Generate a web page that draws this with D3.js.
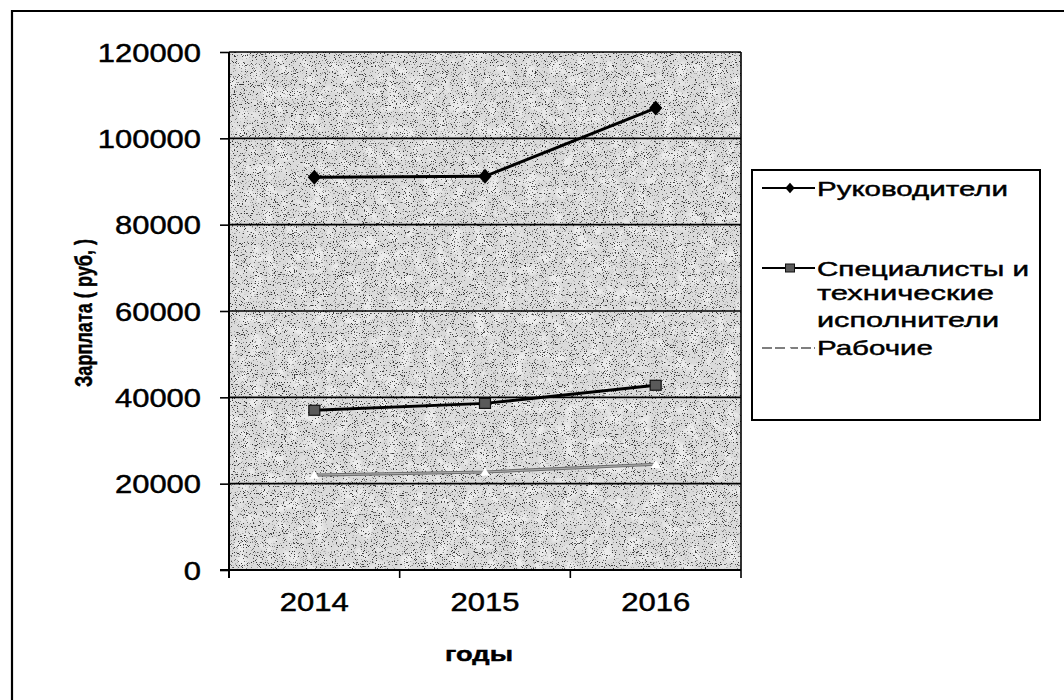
<!DOCTYPE html>
<html>
<head>
<meta charset="utf-8">
<script src="https://cdn.jsdelivr.net/npm/d3@7/dist/d3.min.js"></script>
<style>
  html, body { margin: 0; padding: 0; background: #fff; }
  svg { display: block; }
  text { font-family: "Liberation Sans", Arial, sans-serif; fill: #000; stroke: #000; stroke-width: 0.45px; }
</style>
</head>
<body>
<svg id="chart" width="1064" height="700"></svg>
<script>
// Average wages by staff category, 2014–2016
const years = ["2014", "2015", "2016"];
const managers = [91000, 91200, 107000];
const specialists = [37000, 38600, 42800];
const workers = [22000, 22700, 24500];
const yTicks = [0, 20000, 40000, 60000, 80000, 100000, 120000];
const legendLabels = ["Руководители", "Специалисты и технические исполнители", "Рабочие"];
const yTitle = "Зарплата ( руб, )";
const xTitle = "годы";

const svg = d3.select("#chart");
const defs = svg.append("defs");

// speckled plot-area fill
const f = defs.append("filter").attr("id", "grain")
  .attr("x", 0).attr("y", 0).attr("width", "100%").attr("height", "100%");
f.append("feTurbulence").attr("type", "fractalNoise").attr("baseFrequency", 0.9)
  .attr("numOctaves", 2).attr("seed", 7).attr("result", "noise");
f.append("feColorMatrix").attr("in", "noise").attr("type", "matrix")
  .attr("values", "0 0 0 0 0  0 0 0 0 0  0 0 0 0 0  -10 0 0 0 3.9");
// soft lighter blotches
const f2 = defs.append("filter").attr("id", "blotch")
  .attr("x", 0).attr("y", 0).attr("width", "100%").attr("height", "100%");
f2.append("feTurbulence").attr("type", "fractalNoise").attr("baseFrequency", 0.08)
  .attr("numOctaves", 2).attr("seed", 3).attr("result", "n2");
f2.append("feColorMatrix").attr("in", "n2").attr("type", "matrix")
  .attr("values", "0 0 0 0 1  0 0 0 0 1  0 0 0 0 1  4 0 0 0 -1.9");

const plot = { left: 229, right: 741, top: 52, bottom: 570 };

const x = d3.scaleBand().domain(years).range([plot.left, plot.right]);
const y = d3.scaleLinear().domain([0, 120000]).range([plot.bottom, plot.top]);
const cx = d => x(d) + x.bandwidth() / 2;

// outer frame (top and left edges)
svg.append("path").attr("d", "M12,700 V11 H1064")
  .attr("fill", "none").attr("stroke", "#000").attr("stroke-width", 2.2);

// plot background
const bg = (fill, filter) => svg.append("rect").attr("x", plot.left).attr("y", plot.top)
  .attr("width", plot.right - plot.left).attr("height", plot.bottom - plot.top)
  .attr("fill", fill).attr("filter", filter);
bg("#dadada", null);
bg("#fff", "url(#blotch)").attr("opacity", 0.5);
bg("#000", "url(#grain)").attr("opacity", 0.75);

// horizontal gridlines
svg.append("g").selectAll("line").data(yTicks.filter(v => v > 0)).join("line")
  .attr("x1", plot.left).attr("x2", plot.right)
  .attr("y1", d => y(d)).attr("y2", d => y(d))
  .attr("stroke", "#000").attr("stroke-width", 1.6);

// plot right edge
svg.append("line").attr("x1", plot.right).attr("x2", plot.right)
  .attr("y1", plot.top).attr("y2", plot.bottom)
  .attr("stroke", "#000").attr("stroke-width", 1.6);

// y axis
const yAxis = svg.append("g").attr("transform", `translate(${plot.left},0)`)
  .call(d3.axisLeft(y).tickValues(yTicks).tickSize(9).tickFormat(d => d));
yAxis.select(".domain").attr("stroke-width", 2).attr("d", `M0,${plot.top}V${plot.bottom + 8}`);
yAxis.selectAll(".tick line").attr("stroke-width", 1.6);
yAxis.selectAll(".tick text")
  .attr("x", -28).attr("dy", "0.36em")
  .style("font-size", "25px").style("font-family", "'Liberation Sans', Arial, sans-serif")
  .attr("textLength", d => String(d).length * 17.2).attr("lengthAdjust", "spacingAndGlyphs");

// x axis with ticks between categories
const xAxis = svg.append("g").attr("transform", `translate(0,${plot.bottom})`)
  .call(d3.axisBottom(x).tickSize(0).tickFormat(d => d));
xAxis.select(".domain").attr("stroke-width", 2).attr("d", `M${plot.left - 9},0H${plot.right}`);
xAxis.selectAll(".tick text")
  .attr("y", 41).attr("dy", 0)
  .style("font-size", "25px").style("font-family", "'Liberation Sans', Arial, sans-serif")
  .attr("textLength", 69).attr("lengthAdjust", "spacingAndGlyphs");
const bounds = years.map(d => x(d)).concat([plot.right]);
xAxis.append("g").selectAll("line").data(bounds).join("line")
  .attr("x1", d => d).attr("x2", d => d).attr("y1", 0).attr("y2", 8)
  .attr("stroke", "#000").attr("stroke-width", 1.6);

// axis titles
svg.append("text").attr("transform", "translate(92,313) rotate(-90)")
  .attr("text-anchor", "middle")
  .style("font-family", "'Liberation Sans Narrow', 'Liberation Sans', Arial, sans-serif")
  .style("font-weight", "bold").style("font-size", "23px")
  .attr("textLength", 148).attr("lengthAdjust", "spacingAndGlyphs")
  .text(yTitle);
svg.append("text").attr("x", 479).attr("y", 661).attr("text-anchor", "middle")
  .style("font-weight", "bold").style("font-size", "21px")
  .attr("textLength", 68).attr("lengthAdjust", "spacingAndGlyphs")
  .text(xTitle);

const line = d3.line().x((d, i) => cx(years[i])).y(d => y(d));

// workers: grey line broken by white triangle markers
svg.append("path").datum(workers).attr("d", line)
  .attr("fill", "none").attr("stroke", "#6e6e6e").attr("stroke-width", 3.2);
svg.append("path").datum(workers).attr("d", line)
  .attr("fill", "none").attr("stroke", "#b0b0b0").attr("stroke-width", 1);
const tri = d3.symbol().type(d3.symbolTriangle).size(40);
svg.append("g").selectAll("path").data(workers).join("path")
  .attr("transform", (d, i) => `translate(${cx(years[i])},${y(d) + 1})`)
  .attr("d", tri).attr("fill", "#fff");

// specialists: black line with grey square markers
svg.append("path").datum(specialists).attr("d", line)
  .attr("fill", "none").attr("stroke", "#000").attr("stroke-width", 3);
svg.append("g").selectAll("rect").data(specialists).join("rect")
  .attr("x", (d, i) => cx(years[i]) - 5.5).attr("y", d => y(d) - 5)
  .attr("width", 11).attr("height", 10)
  .attr("fill", "#5a5a5a").attr("stroke", "#111").attr("stroke-width", 1.2);

// managers: black line with diamond markers
svg.append("path").datum(managers).attr("d", line)
  .attr("fill", "none").attr("stroke", "#000").attr("stroke-width", 3);
svg.append("g").selectAll("path").data(managers).join("path")
  .attr("transform", (d, i) => `translate(${cx(years[i])},${y(d)}) scale(1.3,0.85)`)
  .attr("d", d3.symbol().type(d3.symbolDiamond).size(90)).attr("fill", "#000");

// legend
const lg = svg.append("g");
lg.append("rect").attr("x", 752).attr("y", 170).attr("width", 288).attr("height", 250)
  .attr("fill", "#fff").attr("stroke", "#000").attr("stroke-width", 2);

const legendText = (lines, baselines, widths) => {
  lines.forEach((t, i) => {
    lg.append("text").attr("x", 817).attr("y", baselines[i])
      .style("font-size", "21px")
      .attr("textLength", widths[i]).attr("lengthAdjust", "spacingAndGlyphs")
      .text(t);
  });
};
// managers entry
lg.append("line").attr("x1", 762).attr("x2", 815).attr("y1", 188).attr("y2", 188)
  .attr("stroke", "#000").attr("stroke-width", 2);
lg.append("path").attr("transform", "translate(790,188) scale(1.3,0.85)")
  .attr("d", d3.symbol().type(d3.symbolDiamond).size(45)).attr("fill", "#000");
legendText([legendLabels[0]], [196], [191]);

// specialists entry
lg.append("line").attr("x1", 762).attr("x2", 815).attr("y1", 268).attr("y2", 268)
  .attr("stroke", "#000").attr("stroke-width", 2);
lg.append("rect").attr("x", 785.5).attr("y", 264).attr("width", 9).attr("height", 8)
  .attr("fill", "#5a5a5a").attr("stroke", "#111").attr("stroke-width", 1);
legendText(["Специалисты и", "технические", "исполнители"], [276, 300, 327], [212, 177, 182]);

// workers entry
lg.append("line").attr("x1", 762).attr("x2", 815).attr("y1", 348).attr("y2", 348)
  .attr("stroke", "#555").attr("stroke-width", 1.6).attr("stroke-dasharray", "10,3");
lg.append("path").attr("transform", "translate(788,349)")
  .attr("d", d3.symbol().type(d3.symbolTriangle).size(35)).attr("fill", "#fff");
legendText([legendLabels[2]], [355], [116]);
</script>
</body>
</html>
